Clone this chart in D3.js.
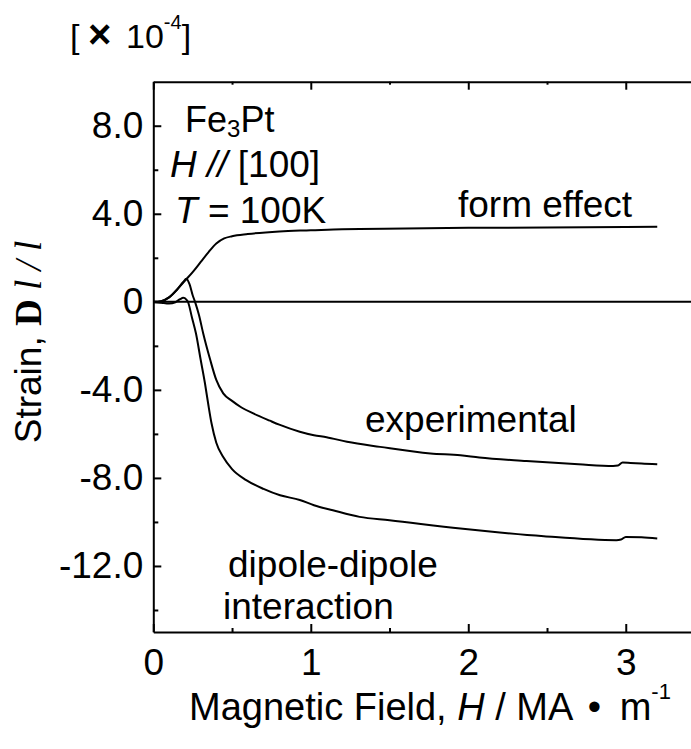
<!DOCTYPE html>
<html>
<head>
<meta charset="utf-8">
<script src="https://cdn.jsdelivr.net/npm/d3@7"></script>
<style>
  body { margin: 0; background: #fff; }
  svg { display: block; font-family: "Liberation Sans", Arial, sans-serif; }
  .axis path, .axis line { stroke: #000; stroke-width: 2; }
  .axis text { fill: #000; }
</style>
</head>
<body>
<div id="chart"></div>
<script>
// tick values / labels
const xTicks = [0, 1, 2, 3];
const xMinor = [0.5, 1.5, 2.5];
const yTicks = [-12, -8, -4, 0, 4, 8];
const yTickLabels = ['-12.0', '-8.0', '-4.0', '0', '4.0', '8.0'];
const yMinor = [-14, -10, -6, -2, 2, 6];

// form effect
const formX = [0, 0.05, 0.1, 0.15, 0.2, 0.25, 0.3, 0.35, 0.4, 0.45, 0.5, 0.6, 0.8, 1.0, 1.2, 1.6, 2.0, 2.5, 3.0, 3.2];
const formY = [0, 0.03, 0.2, 0.55, 0.95, 1.35, 1.8, 2.25, 2.65, 2.88, 2.98, 3.08, 3.2, 3.25, 3.3, 3.33, 3.36, 3.38, 3.4, 3.41];

// experimental
const expX = [0, 0.05, 0.1, 0.15, 0.19, 0.21, 0.23, 0.25, 0.265, 0.29, 0.317, 0.36, 0.4, 0.444, 0.5, 0.56, 0.635, 0.74, 0.8, 0.93, 1.02, 1.1, 1.23, 1.44, 1.76, 1.95, 2.07, 2.37, 2.7, 2.92, 2.95, 2.98, 3.03, 3.1, 3.2];
const expY = [0, 0.03, 0.2, 0.55, 0.9, 1.05, 0.8, 0.3, 0, -0.6, -1.44, -2.6, -3.55, -4.16, -4.5, -4.8, -5.07, -5.4, -5.58, -5.9, -6.06, -6.15, -6.36, -6.59, -6.89, -6.97, -7.07, -7.23, -7.38, -7.46, -7.44, -7.3, -7.32, -7.35, -7.38];

// dipole-dipole interaction
const dipX = [0, 0.05, 0.1, 0.14, 0.17, 0.19, 0.21, 0.22, 0.245, 0.271, 0.3, 0.328, 0.35, 0.37, 0.4, 0.444, 0.5, 0.59, 0.7, 0.805, 0.93, 1.02, 1.14, 1.31, 1.5, 1.95, 2.2, 2.48, 2.94, 2.97, 3.0, 3.1, 3.2];
const dipY = [0, -0.04, -0.08, -0.02, 0.12, 0.18, 0.1, 0, -0.7, -1.44, -2.6, -3.7, -4.7, -5.53, -6.4, -7.05, -7.6, -8.1, -8.5, -8.79, -9.0, -9.24, -9.47, -9.77, -9.92, -10.3, -10.48, -10.65, -10.83, -10.8, -10.68, -10.7, -10.75];

const width = 691, height = 749;
const plotLeft = 153.3, plotRight = 704.5, plotTop = 81.7, plotBottom = 632;

const svg = d3.select('#chart').append('svg')
  .attr('width', width)
  .attr('height', height)
  .attr('viewBox', [0, 0, width, height]);

const x = d3.scaleLinear().domain([0, 3.5]).range([plotLeft, plotRight]);
const y = d3.scaleLinear().domain([-15, 10]).range([plotBottom, plotTop]);

const fontSize = 37;

// bottom axis
svg.append('g').attr('class', 'axis')
  .attr('transform', `translate(0,${y(-15)})`)
  .call(d3.axisBottom(x).tickValues(xTicks).tickSizeInner(-8).tickSizeOuter(0).tickPadding(17).tickFormat(d3.format('d')))
  .call(g => g.selectAll('text').style('font-size', fontSize + 'px').style('font-family', '"Liberation Sans", Arial, sans-serif'));
svg.append('g').attr('class', 'axis')
  .attr('transform', `translate(0,${y(-15)})`)
  .call(d3.axisBottom(x).tickValues(xMinor).tickSizeInner(-4).tickSizeOuter(0).tickFormat(''))
  .call(g => g.select('.domain').remove());

// top axis
svg.append('g').attr('class', 'axis')
  .attr('transform', `translate(0,${y(10)})`)
  .call(d3.axisTop(x).tickValues(xTicks).tickSizeInner(-8).tickSizeOuter(0).tickFormat(''));
svg.append('g').attr('class', 'axis')
  .attr('transform', `translate(0,${y(10)})`)
  .call(d3.axisTop(x).tickValues(xMinor).tickSizeInner(-3).tickSizeOuter(0).tickFormat(''))
  .call(g => g.select('.domain').remove());

// left axis
svg.append('g').attr('class', 'axis')
  .attr('transform', `translate(${x(0)},0)`)
  .call(d3.axisLeft(y).tickValues(yTicks).tickSizeInner(-8).tickSizeOuter(0).tickPadding(10)
    .tickFormat((d, i) => yTickLabels[i]))
  .call(g => g.selectAll('text').style('font-size', fontSize + 'px').style('font-family', '"Liberation Sans", Arial, sans-serif'));
svg.append('g').attr('class', 'axis')
  .attr('transform', `translate(${x(0)},0)`)
  .call(d3.axisLeft(y).tickValues(yMinor).tickSizeInner(-5).tickSizeOuter(0).tickFormat(''))
  .call(g => g.select('.domain').remove());

// zero line
svg.append('line')
  .attr('x1', x(0)).attr('x2', x(3.5))
  .attr('y1', y(0)).attr('y2', y(0))
  .attr('stroke', '#000').attr('stroke-width', 2);

// curves
const line = d3.line()
  .x(d => x(d[0]))
  .y(d => y(d[1]))
  .curve(d3.curveMonotoneX);

[[formX, formY], [expX, expY], [dipX, dipY]].forEach(([xs, ys]) => {
  svg.append('path')
    .datum(xs.map((v, i) => [v, ys[i]]))
    .attr('fill', 'none')
    .attr('stroke', '#000')
    .attr('stroke-width', 2)
    .attr('d', line);
});

// annotations
const txt = (px, py, size) => svg.append('text')
  .attr('x', px).attr('y', py)
  .style('font-size', size + 'px')
  .attr('fill', '#000');

const fe = txt(185, 132, 36);
fe.append('tspan').text('Fe');
fe.append('tspan').attr('dy', 5).style('font-size', '24px').text('3');
fe.append('tspan').attr('dy', -5).text('Pt');

const hp = txt(170, 177, 37);
hp.append('tspan').style('font-style', 'italic').text('H //');
hp.append('tspan').text(' [100]');

const tt = txt(175, 223, 37);
tt.append('tspan').style('font-style', 'italic').text('T');
tt.append('tspan').text(' = 100K');

txt(458, 217, fontSize).text('form effect');
txt(365, 432, fontSize).text('experimental');
txt(228, 577, fontSize).text('dipole-dipole');
txt(223, 619, fontSize).text('interaction');

// unit label  [ x 10^-4 ]
const unit = txt(70, 48, 34);
unit.append('tspan').text('[');
unit.append('tspan').attr('x', 88).style('font-weight', 'bold').style('font-size', '40px').text('×');
unit.append('tspan').attr('x', 126).text('10');
unit.append('tspan').attr('dy', -19).style('font-size', '20px').text('-4');
unit.append('tspan').attr('dy', 19).text(']');

// x axis title
const xt = txt(189, 720, 38);
xt.append('tspan').text('Magnetic Field, ');
xt.append('tspan').style('font-style', 'italic').text('H');
xt.append('tspan').text(' / MA ');
xt.append('tspan').attr('dx', 6).text('•');
xt.append('tspan').attr('dx', 8).text(' m');
xt.append('tspan').attr('dy', -21).style('font-size', '22px').text('-1');

// y axis title
const yt = svg.append('text')
  .attr('transform', 'translate(41,342) rotate(-90)')
  .attr('text-anchor', 'middle')
  .style('font-size', fontSize + 'px')
  .attr('fill', '#000');
yt.append('tspan').text('Strain, ');
yt.append('tspan').style('font-family', '"Liberation Serif", "Times New Roman", serif').style('font-weight', 'bold').text('D');
yt.append('tspan').style('font-family', '"Liberation Serif", "Times New Roman", serif').style('font-style', 'italic').text(' l / l');
</script>
</body>
</html>
